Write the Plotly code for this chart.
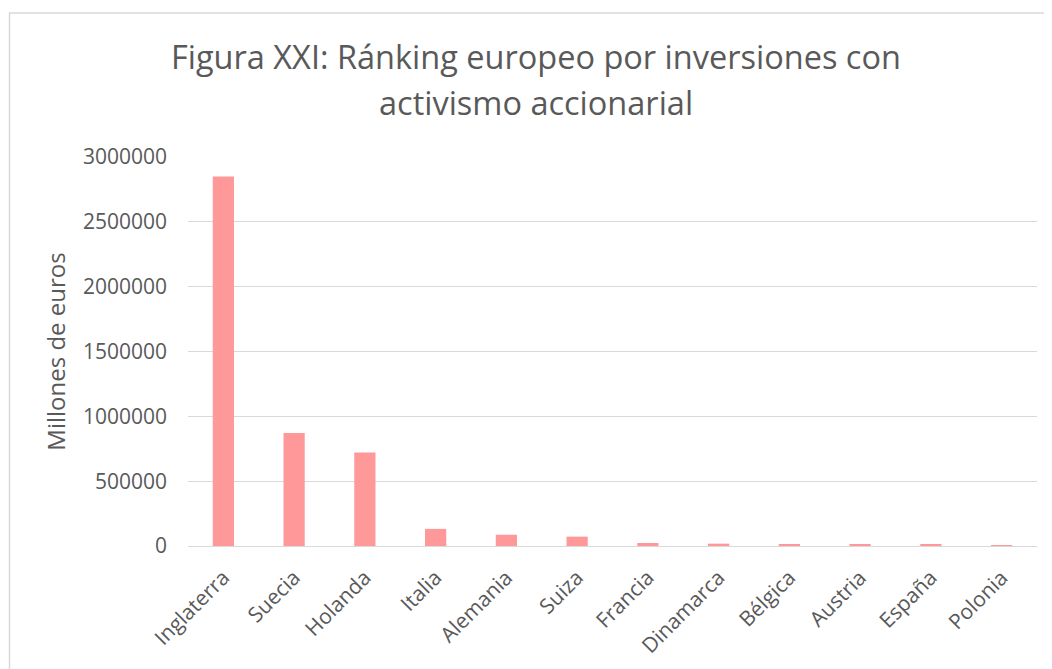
import plotly.graph_objects as go

categories = ["Inglaterra", "Suecia", "Holanda", "Italia", "Alemania", "Suiza",
              "Francia", "Dinamarca", "Bélgica", "Austria", "España", "Polonia"]
values = [2850000, 872000, 722000, 132000, 87000, 72000,
          23000, 18000, 15000, 10000, 10000, 2000]
y_ticks = [0, 500000, 1000000, 1500000, 2000000, 2500000, 3000000]
title_lines = ["Figura XXI: Ránking europeo por inversiones con", "activismo accionarial"]
y_title = "Millones de euros"

# page body has an 8px margin; work in reference pixel coords minus 8
OFF = 8
W, H = 1052 - OFF, 669 - OFF
L, R, T, B = 188 - OFF, 15, 157 - OFF, 123
pw, ph = W - L - R, H - T - B

def px_x(x):
    return (x - OFF - L) / pw

def px_y(y):
    return (H - B - (y - OFF)) / ph

text_color = "#595959"
font_family = "Open Sans, DejaVu Sans, sans-serif"

fig = go.Figure(go.Bar(
    x=categories, y=values,
    marker=dict(color="#FF9999", line=dict(width=0)),
))

annotations = [
    dict(text=title_lines[0], xref="paper", yref="paper", x=px_x(536), y=px_y(57),
         xanchor="center", yanchor="middle", showarrow=False,
         font=dict(family=font_family, size=32.5, color=text_color)),
    dict(text=title_lines[1], xref="paper", yref="paper", x=px_x(536), y=px_y(103),
         xanchor="center", yanchor="middle", showarrow=False,
         font=dict(family=font_family, size=32.5, color=text_color)),
]

fig.update_layout(
    width=W, height=H,
    margin=dict(l=L, r=R, t=T, b=B, autoexpand=False),
    paper_bgcolor="white", plot_bgcolor="white",
    bargap=0.7,
    showlegend=False,
    font=dict(family=font_family, color=text_color),
    annotations=annotations,
    shapes=[dict(type="rect", xref="paper", yref="paper",
                 x0=px_x(9.5), x1=px_x(1080), y0=px_y(700), y1=px_y(13),
                 line=dict(color="#d9d9d9", width=1.5), fillcolor="rgba(0,0,0,0)", layer="below")],
)

fig.update_xaxes(
    tickangle=-45, tickfont=dict(size=21, color=text_color),
    showgrid=False, showline=True, linecolor="#d9d9d9", linewidth=1,
    ticks="", ticklabelstandoff=10,
)
fig.update_yaxes(
    range=[0, 3000000], tickvals=y_ticks, ticktext=[str(v) for v in y_ticks],
    tickfont=dict(size=21, color=text_color),
    showgrid=True, gridcolor="#d9d9d9", gridwidth=1, zeroline=False,
    ticks="", ticklabelstandoff=20,
    title=dict(text=y_title, font=dict(size=24, color=text_color), standoff=10),
)

fig.write_html("out.html")
